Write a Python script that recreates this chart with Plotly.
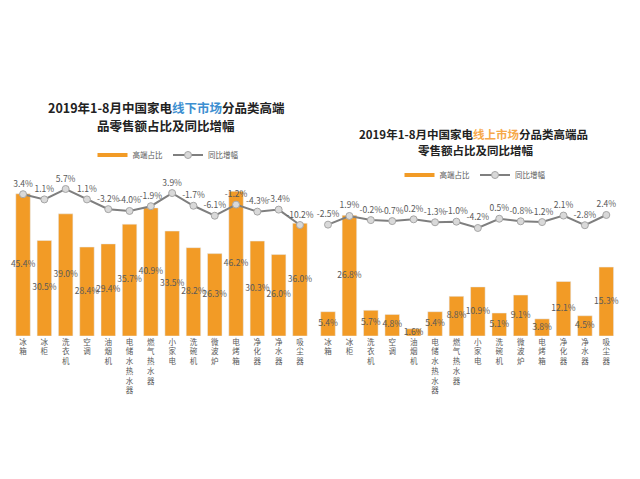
import plotly.graph_objects as go

categories = ["冰箱", "冰柜", "洗衣机", "空调", "油烟机", "电储水热水器", "燃气热水器",
              "小家电", "洗碗机", "微波炉", "电烤箱", "净化器", "净水器", "吸尘器"]
offline_share = [45.4, 30.5, 39.0, 28.4, 29.4, 35.7, 40.9, 33.5, 28.2, 26.3, 46.2, 30.3, 26.0, 36.0]
offline_growth = [3.4, 1.1, 5.7, 1.1, -3.2, -4.0, -1.9, 3.9, -1.7, -6.1, -1.2, -4.3, -3.4, -10.2]
online_share = [5.4, 26.8, 5.7, 4.8, 1.6, 5.4, 8.8, 10.9, 5.1, 9.1, 3.8, 12.1, 4.5, 15.3]
online_growth = [-2.5, 1.9, -0.2, -0.7, 0.2, -1.3, -1.0, -4.2, 0.5, -0.8, -1.2, 2.1, -2.8, 2.4]

W, H = 640, 479
ORANGE = "#F29B26"
LINE = "#7f7f7f"
TXT = "#595959"
FONT = "Noto Sans CJK SC"

idx = list(range(len(categories)))
vert_labels = ["<br>".join(c) for c in categories]


def fmt(v):
    return f"{v:.1f}%"


fig = go.Figure()


def add_panel(share, growth, xa, ya_bar, ya_line, legend):
    fig.add_trace(go.Bar(x=idx, y=share, xaxis=xa, yaxis=ya_bar, marker_color=ORANGE,
                         width=0.68, showlegend=False, hoverinfo="skip"))
    fig.add_trace(go.Scatter(x=idx, y=[v / 2 for v in share], xaxis=xa, yaxis=ya_bar,
                             mode="text", text=[fmt(v) for v in share], cliponaxis=False,
                             textfont=dict(size=8.5, color=TXT, family=FONT),
                             showlegend=False, hoverinfo="skip"))
    fig.add_trace(go.Scatter(x=idx, y=growth, xaxis=xa, yaxis=ya_line, cliponaxis=False,
                             mode="lines+markers+text", text=[fmt(v) for v in growth],
                             textposition="top center",
                             textfont=dict(size=8.5, color=TXT, family=FONT),
                             line=dict(color=LINE, width=2),
                             marker=dict(size=7, color="#d9d9d9", line=dict(color="#a6a6a6", width=1)),
                             name="同比增幅", legend=legend, showlegend=True))
    fig.add_trace(go.Scatter(x=[None], y=[None], xaxis=xa, yaxis=ya_bar, mode="lines",
                             line=dict(color=ORANGE, width=4), name="高端占比",
                             legend=legend, showlegend=True, legendrank=1))


add_panel(offline_share, offline_growth, "x", "y", "y2", "legend")
add_panel(online_share, online_growth, "x2", "y3", "y4", "legend2")

bottom = 1 - 336 / H
left_dom = [12.4 / W, 310.6 / W]
right_dom = [317.3 / W, 617 / W]

xcommon = dict(range=[-0.5, 13.5], tickmode="array", tickvals=idx, ticktext=vert_labels,
               showgrid=False, zeroline=False, showline=False, ticks="",
               tickfont=dict(size=7.5, color=TXT, family=FONT), tickangle=0, fixedrange=True)
ycommon = dict(visible=False, showgrid=False, zeroline=False, fixedrange=True)

fig.update_layout(
    width=W, height=H, margin=dict(l=0, r=0, t=0, b=0),
    paper_bgcolor="white", plot_bgcolor="rgba(0,0,0,0)",
    font=dict(family=FONT, color=TXT),
    xaxis=dict(domain=left_dom, anchor="y", **xcommon),
    xaxis2=dict(domain=right_dom, anchor="y3", **xcommon),
    yaxis=dict(domain=[bottom, 1 - 180 / H], range=[0, 49.8], anchor="x", **ycommon),
    yaxis2=dict(range=[-59.2, 9.67], overlaying="y", anchor="x", **ycommon),
    yaxis3=dict(domain=[bottom, 1 - 200 / H], range=[0, 30.2], anchor="x2", **ycommon),
    yaxis4=dict(range=[-59.0, 10.0], overlaying="y3", anchor="x2", **ycommon),
    legend=dict(orientation="h", x=168 / W, y=1 - 155 / H, xanchor="center", yanchor="middle",
                font=dict(size=7.5, color=TXT, family=FONT), itemwidth=30,
                bgcolor="rgba(0,0,0,0)", traceorder="normal"),
    legend2=dict(orientation="h", x=475 / W, y=1 - 175 / H, xanchor="center", yanchor="middle",
                 font=dict(size=7.5, color=TXT, family=FONT), itemwidth=30,
                 bgcolor="rgba(0,0,0,0)", traceorder="normal"),
)

ann = [
    ("2019年1-8月中国家电<span style='color:#3d8fd1'>线下市场</span>分品类高端", 166, 108, 12.5),
    ("品零售额占比及同比增幅", 166, 125, 12.5),
    ("2019年1-8月中国家电<span style='color:#f6a84a'>线上市场</span>分品类高端品", 473, 134, 11.5),
    ("零售额占比及同比增幅", 475, 150, 11.5),
]
for t, x, y, s in ann:
    fig.add_annotation(text=f"<b>{t}</b>", x=x / W, y=1 - y / H, xref="paper", yref="paper",
                       showarrow=False, xanchor="center", yanchor="middle",
                       font=dict(family=FONT, size=s, color="#222222"))

fig.write_html("out.html")
